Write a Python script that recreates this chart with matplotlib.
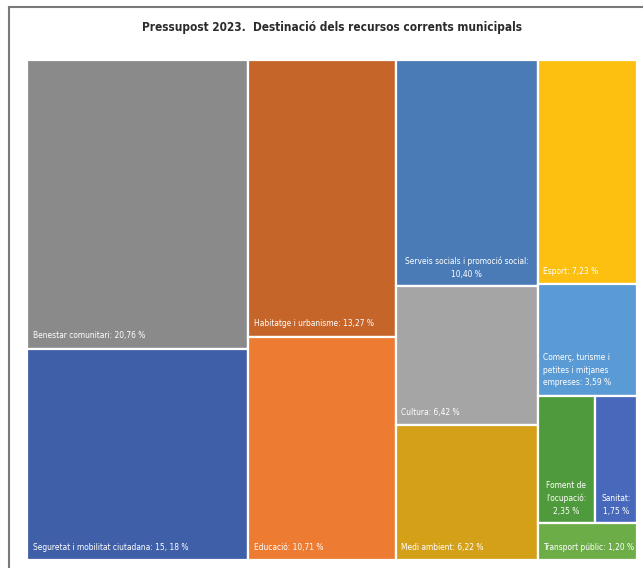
import matplotlib.pyplot as plt
from matplotlib.patches import Rectangle
from matplotlib.lines import Line2D

plt.rcParams['font.family'] = ['DejaVu Sans']
plt.rcParams['font.stretch'] = 'condensed'

# Pressupost 2023 - share of current resources (%)
categories = [
    "Benestar comunitari", "Seguretat i mobilitat ciutadana", "Habitatge i urbanisme",
    "Educació", "Serveis socials i promoció social", "Cultura", "Medi ambient",
    "Esport", "Comerç, turisme i\npetites i mitjanes\nempreses", "Foment de\nl'ocupació",
    "Sanitat", "Transport públic",
]
percent = [20.76, 15.18, 13.27, 10.71, 10.40, 6.42, 6.22, 7.23, 3.59, 2.35, 1.75, 1.20]
value_labels = ["20,76 %", "15, 18 %", "13,27 %", "10,71 %", "10,40 %", "6,42 %",
                "6,22 %", "7,23 %", "3,59 %", "2,35 %", "1,75 %", "1,20 %"]
colors = ["#8a8a8a", "#3f5fa8", "#c6652a", "#ed7b31", "#4a7bb7", "#a5a5a5",
          "#d4a018", "#fdc010", "#5b9bd5", "#4f9a3c", "#4869bb", "#6cad48"]

# treemap structure: columns -> rows -> items (indices into the lists above)
columns = [
    [[0], [1]],
    [[2], [3]],
    [[4], [5], [6]],
    [[7], [8], [9, 10], [11]],
]
# labels split on two lines / centered
newline_value = {4, 9, 10}
centered = {4, 9, 10}

fig = plt.figure(figsize=(6.43, 5.68), dpi=100)
ax = fig.add_axes([27 / 643, 8 / 568, 610 / 643, 500 / 568])
total = sum(percent)

x0 = 0.0
for col in columns:
    col_total = sum(percent[i] for row in col for i in row)
    w = col_total / total
    y0 = 1.0
    for row in col:
        row_total = sum(percent[i] for i in row)
        h = row_total / col_total
        xi = x0
        for i in row:
            wi = w * percent[i] / row_total
            ax.add_patch(Rectangle((xi, y0 - h), wi, h, facecolor=colors[i],
                                   edgecolor="white", linewidth=1.6))
            sep = ":\n" if i in newline_value else ": "
            txt = categories[i] + sep + value_labels[i]
            if i in centered:
                ax.annotate(txt, (xi + wi / 2, y0 - h), xytext=(0, 5),
                            textcoords="offset points", ha="center", va="bottom",
                            color="white", fontsize=6, linespacing=1.5,
                            multialignment="center")
            else:
                ax.annotate(txt, (xi, y0 - h), xytext=(4, 6),
                            textcoords="offset points", ha="left", va="bottom",
                            color="white", fontsize=6, linespacing=1.5)
            xi += wi
        y0 -= h
    x0 += w

ax.set_xlim(0, 1)
ax.set_ylim(0, 1)
ax.axis("off")

fig.text(332 / 643, 1 - 28 / 568, "Pressupost 2023.  Destinació dels recursos corrents municipals",
         ha="center", va="center", fontsize=8.5, color="#2b2b2b", fontweight="bold")

# outer frame (top and left edges visible)
fig.add_artist(Line2D([9 / 643, 1], [1 - 7 / 568, 1 - 7 / 568], color="#7a7a7a", lw=1.5))
fig.add_artist(Line2D([9 / 643, 9 / 643], [0, 1 - 7 / 568], color="#7a7a7a", lw=1.5))

fig.savefig("out.png", dpi=100)
